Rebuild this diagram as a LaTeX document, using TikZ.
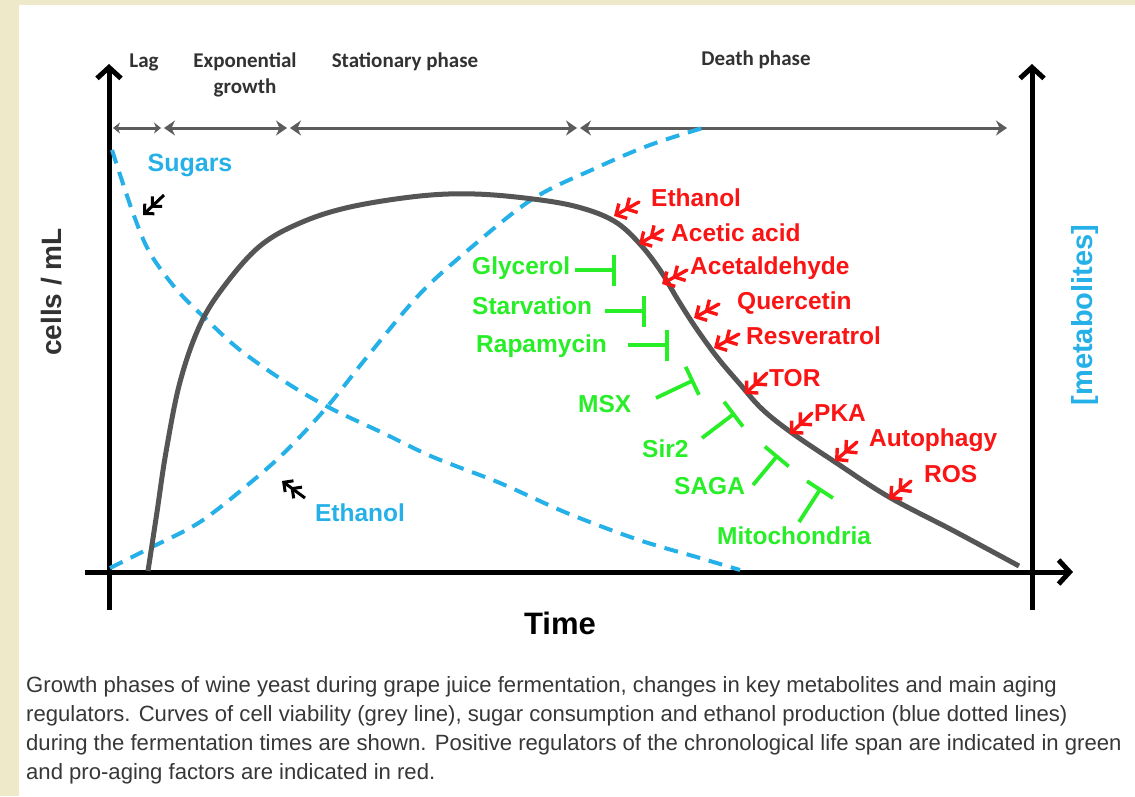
\documentclass[tikz,border=0pt]{standalone}
\usepackage{fontspec}
\setmainfont{Liberation Sans}
\newfontfamily\calfont{Carlito}
\usetikzlibrary{arrows.meta}
\definecolor{beigebg}{RGB}{238,233,201}
\definecolor{skyb}{RGB}{38,176,232}
\definecolor{redc}{RGB}{250,20,20}
\definecolor{greenc}{RGB}{40,238,40}
\definecolor{curvegray}{RGB}{85,85,85}
\definecolor{phasegray}{RGB}{92,92,92}
\definecolor{txtgray}{RGB}{50,50,50}
\definecolor{capgray}{RGB}{55,55,55}
\begin{document}
\begin{tikzpicture}[x=1pt,y=-1pt,
  lab/.style={inner sep=0pt, anchor=base west, font=\fontsize{24.5}{29}\selectfont\bfseries},
  redlab/.style={lab, text=redc},
  greenlab/.style={lab, text=greenc},
  phaselab/.style={inner sep=0pt, text=txtgray, font=\calfont\fontsize{21}{26}\selectfont\bfseries},
  proarrow/.style={draw=redc, line width=3.4pt, line cap=round,
    -{Straight Barb[length=8pt,width=17pt] Straight Barb[length=8pt,width=17pt]}},
  blkarrow/.style={draw=black, line width=3pt,
    -{Straight Barb[length=7pt,width=14pt] Straight Barb[length=7pt,width=14pt]}},
  inhib/.style={draw=greenc, line width=3.8pt, -{Bar[width=31pt]}},
  phasearr/.style={draw=phasegray, line width=3pt,
    {Stealth[length=11pt,width=15pt]}-{Stealth[length=11pt,width=15pt]}},
  axisline/.style={draw=black, line width=5pt, -{Straight Barb[length=11pt,width=24pt]}},
  metab/.style={draw=skyb, line width=4pt, dash pattern=on 14pt off 9pt},
  caption/.style={inner sep=0pt, anchor=base west, text=capgray, font=\fontsize{22.1}{29}\selectfont}
]
% background
\fill[beigebg] (0,0) rectangle (1135,796);
\fill[white] (19,5) rectangle (1135,796);
\useasboundingbox (0,0) rectangle (1135,796);

% axes
\coordinate (lyb) at (109,610); \coordinate (lyt) at (109,64);
\coordinate (xl) at (85,572);   \coordinate (xr) at (1073,572);
\coordinate (ryb) at (1032,610); \coordinate (ryt) at (1032,64);
\draw[axisline] (lyb) -- (lyt);
\draw[axisline] (xl) -- (xr);
\draw[axisline] (ryb) -- (ryt);

% phase labels
\node[phaselab] (lag) at (144,62) {Lag};
\node[phaselab, align=center] (expo) at (245,75) {Exponential\\[0pt]growth};
\node[phaselab] (stat) at (405,62) {Stationary phase};
\node[phaselab] (death) at (756,60) {Death phase};

% phase arrows
\coordinate (p0) at (113,128); \coordinate (p1) at (161,128);
\coordinate (p2) at (164,128); \coordinate (p3) at (287,128);
\coordinate (p4) at (290,128); \coordinate (p5) at (577,128);
\coordinate (p6) at (580,128); \coordinate (p7) at (1007,128);
\draw[phasearr, {Stealth[length=7pt,width=11pt]}-{Stealth[length=7pt,width=11pt]}] (p0) -- (p1);
\draw[phasearr] (p2) -- (p3);
\draw[phasearr] (p4) -- (p5);
\draw[phasearr] (p6) -- (p7);

% metabolite curves
\draw[metab] plot[smooth, tension=0.55] coordinates {
  (112,150) (133,213) (150,253) (177,290) (207,320) (240,350) (287,383)
  (330,408) (383,433) (433,457) (500,483) (567,513) (639,540) (700,558) (740,570)};
\draw[metab] plot[smooth, tension=0.55] coordinates {
  (110,568) (150,548) (200,522) (250,483) (287,450) (327,407) (367,357)
  (417,297) (460,257) (531,200) (596,168) (650,145) (706,127)};

% viability curve
\draw[curvegray, line width=5pt] plot[smooth, tension=0.6] coordinates {
  (148,571) (157,512) (166,452) (180,382) (200,325) (225,285) (260,246)
  (300,223) (350,207) (420,196) (475,194) (533,199) (578,207) (614,221)
  (639,243) (660,270) (678,300) (696,328) (717,357) (739,383) (762,409)
  (792,433) (835,462) (889,497) (954,531) (1019,566)};

% axis titles
\node[rotate=90, inner sep=0pt, text=txtgray, font=\fontsize{28}{32}\selectfont\bfseries] (cells) at (52,292) {cells / mL};
\node[rotate=90, inner sep=0pt, text=skyb, font=\fontsize{29}{32}\selectfont\bfseries] (metabo) at (1085,315) {[metabolites]};
\node[inner sep=0pt, text=black, font=\fontsize{31}{34}\selectfont\bfseries] (time) at (560,623) {Time};

% blue labels
\node[inner sep=0pt, text=skyb, font=\fontsize{25}{29}\selectfont\bfseries] (sug) at (190,165) {Sugars};
\node[inner sep=0pt, text=skyb, font=\fontsize{24.5}{29}\selectfont\bfseries] (etb) at (360,513) {Ethanol};
\coordinate (sa0) at (164,195); \coordinate (sa1) at (143,215);
\draw[blkarrow] (sa0) -- (sa1);
\coordinate (ea0) at (305,498); \coordinate (ea1) at (282,481);
\draw[blkarrow] (ea0) -- (ea1);

% red pro-aging factors
\node[redlab] (r1) at (651,206) {Ethanol};
\node[redlab] (r2) at (671,241) {Acetic acid};
\node[redlab] (r3) at (690,274) {Acetaldehyde};
\node[redlab] (r4) at (737,309) {Quercetin};
\node[redlab] (r5) at (746,344) {Resveratrol};
\node[redlab] (r6) at (769,386) {TOR};
\node[redlab] (r7) at (814,421) {PKA};
\node[redlab] (r8) at (869,446) {Autophagy};
\node[redlab] (r9) at (924,482) {ROS};
\foreach \n/\ax/\ay/\bx/\by in {1/639/202/614/216, 2/663/230/639/244, 3/687/270/662/284,
  4/719/304/694/318, 5/739/334/714/348, 6/767/373/745/394, 7/812/413/790/434,
  8/857/442/835/461, 9/911/481/889/499}{
  \coordinate (rt\n) at (\ax,\ay); \coordinate (rh\n) at (\bx,\by);
  \draw[proarrow] (rt\n) -- (rh\n);
}

% green anti-aging factors
\node[greenlab] (g1) at (472,274) {Glycerol};
\node[greenlab] (g2) at (472,314) {Starvation};
\node[greenlab] (g3) at (476,352) {Rapamycin};
\node[greenlab] (g4) at (578,412) {MSX};
\node[greenlab] (g5) at (642,457) {Sir2};
\node[greenlab] (g6) at (674,494) {SAGA};
\node[greenlab] (g7) at (717,544) {Mitochondria};
\foreach \n/\ax/\ay/\bx/\by in {1/575/270/616/270, 2/605/311/646/311, 3/628/345/669/345,
  4/656/398/694/380, 5/702/438/735/413, 6/753/485/778/455, 7/799/522/821/488}{
  \coordinate (gt\n) at (\ax,\ay); \coordinate (gh\n) at (\bx,\by);
  \draw[inhib] (gt\n) -- (gh\n);
}

% caption
\node[caption] (c1) at (26,692) {Growth phases of wine yeast during grape juice fermentation, changes in key metabolites and main aging};
\node[caption] (c2) at (26,721) {regulators. Curves of cell viability (grey line), sugar consumption and ethanol production (blue dotted lines)};
\node[caption] (c3) at (26,750) {during the fermentation times are shown. Positive regulators of the chronological life span are indicated in green};
\node[caption] (c4) at (26,779) {and pro-aging factors are indicated in red.};
\end{tikzpicture}
\end{document}
